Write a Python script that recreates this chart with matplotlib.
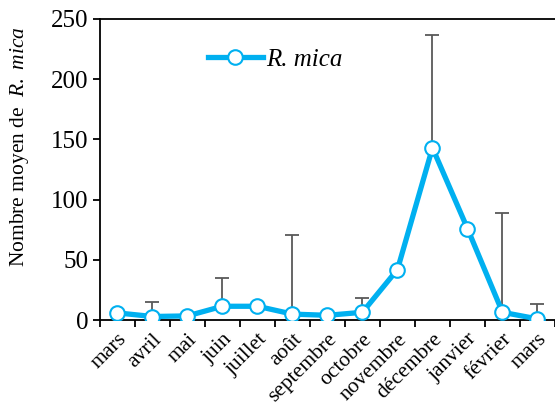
import numpy as np
import matplotlib
matplotlib.use('Agg')
import matplotlib.pyplot as plt

months = ['mars', 'avril', 'mai', 'juin', 'juillet', 'août', 'septembre',
          'octobre', 'novembre', 'décembre', 'janvier', 'février', 'mars']
mean_counts = [6, 3, 3.5, 11.5, 11.5, 5, 4, 6.5, 42, 143, 76, 6.5, 1]
upper_err = [0, 12, 0, 23.5, 2, 65.5, 0, 12, 0, 94, 0, 82.5, 12]

plt.rcParams['font.family'] = ['Liberation Serif', 'DejaVu Serif']
plt.rcParams['mathtext.fontset'] = 'custom'
plt.rcParams['mathtext.rm'] = 'Liberation Serif'
plt.rcParams['mathtext.it'] = 'Liberation Serif:italic'

blue = '#00B0F0'
fig = plt.figure(figsize=(5.55, 4.12), dpi=100)
ax = fig.add_axes([0.18, 0.223, 0.82, 0.731])

x = np.arange(len(months))
ax.errorbar(x, mean_counts, yerr=[np.zeros(len(x)), upper_err], fmt='none',
            ecolor='#595959', elinewidth=1.3, capsize=5, capthick=1.3, zorder=2)
ax.plot(x, mean_counts, color=blue, lw=3.8, marker='o', ms=10.5,
        mfc='white', mec=blue, mew=1.5, zorder=3, label='R. mica')

ax.set_xlim(-0.5, len(months) - 0.5)
ax.set_ylim(0, 250)
ax.set_yticks(range(0, 251, 50))
ax.set_xticks(x)
ax.set_xticklabels(months, rotation=45, ha='right', va='top',
                   rotation_mode='anchor', fontsize=15.5)
ax.set_xticks(np.arange(-0.5, len(months)), minor=True)
ax.tick_params(axis='x', which='major', length=0, pad=7)
ax.tick_params(axis='x', which='minor', length=5, width=1.3, direction='out')
ax.tick_params(axis='y', length=5, width=1.3, labelsize=18, direction='out')

for s in ['left', 'bottom', 'top']:
    ax.spines[s].set_linewidth(1.3)
ax.spines['right'].set_visible(False)

ax.set_ylabel(r'Nombre moyen de  $\mathit{R.\ mica}$', fontsize=15.5)
ax.yaxis.set_label_coords(-0.152, 0.575)

leg = ax.legend(loc='center left', bbox_to_anchor=(0.237, 0.864), frameon=False,
                borderpad=0, borderaxespad=0,
                handlelength=2.2, handletextpad=0.15, prop={'size': 18, 'style': 'italic'})

fig.savefig('out.png', dpi=100)
